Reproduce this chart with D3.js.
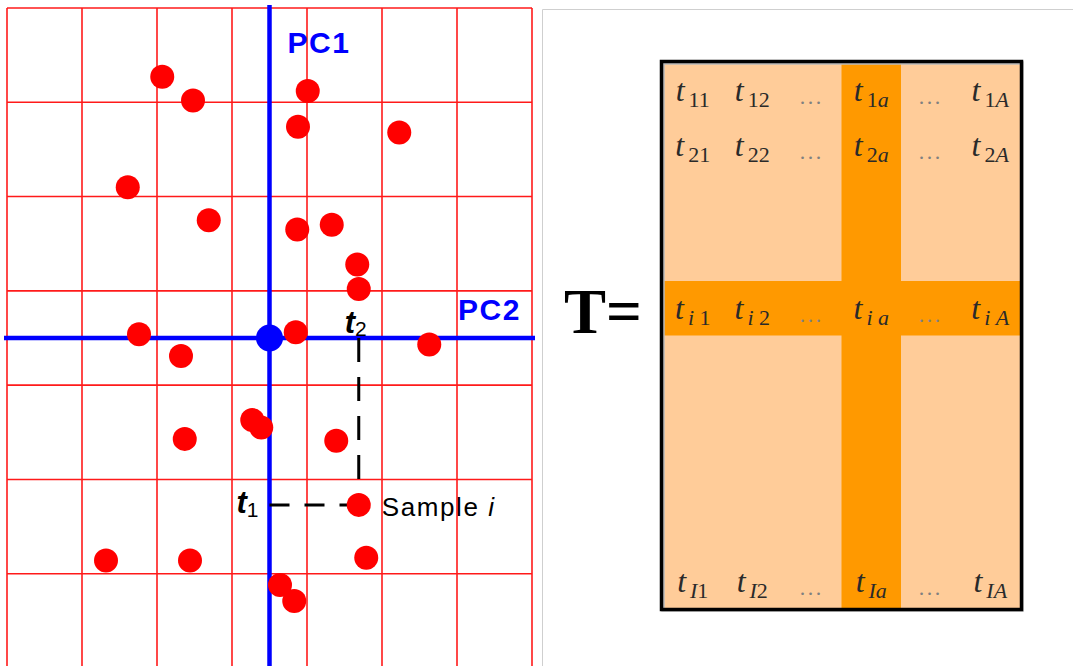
<!DOCTYPE html>
<html>
<head>
<meta charset="utf-8">
<script src="https://cdn.jsdelivr.net/npm/d3@7"></script>
<style>
  body { margin: 0; background: #fff; }
</style>
</head>
<body>
<script>
// score plot data: PC2 (horizontal) and PC1 (vertical) scores
const pc2 = [-1.43, -1.02, 0.51, 0.38, 1.73, -1.89, -0.81, 0.37, 0.83, 1.17, 1.19, -1.74, 0.35,
  2.13, -1.18, -0.23, -0.11, -1.13, 0.89, 1.19, -2.18, -1.06, 1.29, 0.14, 0.33];
const pc1 = [2.77, 2.52, 2.62, 2.24, 2.18, 1.60, 1.25, 1.15, 1.20, 0.78, 0.52, 0.04, 0.06,
  -0.07, -0.19, -0.87, -0.95, -1.07, -1.09, -1.77, -2.36, -2.36, -2.33, -2.62, -2.79];
const sampleIndex = 19;
const gridTicks = [-3.5, -2.5, -1.5, -0.5, 0.5, 1.5, 2.5, 3.5];

// score matrix T
const rowLabels = ["1", "2", "", "", "i", "", "", "", "", "I"];
const colLabels = ["1", "2", "...", "a", "...", "A"];
const highlightRow = "i";
const highlightCol = "a";

const width = 1073, height = 666;

const svg = d3.select("body")
    .append("svg")
    .attr("width", width)
    .attr("height", height);

// ---------- left panel: score plot ----------
const xScale = d3.scaleLinear().domain([-3.5, 3.5]).range([7, 532]);
const yScale = d3.scaleLinear().domain([-3.5, 3.5]).range([668, 8]);

const plot = svg.append("g");

//grid
plot.selectAll(".vgrid")
    .data(gridTicks)
    .enter()
    .append("line")
    .attr("x1", d => xScale(d))
    .attr("x2", d => xScale(d))
    .attr("y1", yScale(3.5))
    .attr("y2", height)
    .attr("stroke", "#ff1a1a")
    .attr("stroke-width", 1.6);

plot.selectAll(".hgrid")
    .data(gridTicks)
    .enter()
    .append("line")
    .attr("x1", xScale(-3.5))
    .attr("x2", xScale(3.5))
    .attr("y1", d => yScale(d))
    .attr("y2", d => yScale(d))
    .attr("stroke", "#ff1a1a")
    .attr("stroke-width", 1.6);

//axes
plot.append("line")
    .attr("x1", 4).attr("x2", 535)
    .attr("y1", yScale(0)).attr("y2", yScale(0))
    .attr("stroke", "#0000ff")
    .attr("stroke-width", 4.5);

plot.append("line")
    .attr("x1", xScale(0)).attr("x2", xScale(0))
    .attr("y1", 5).attr("y2", height)
    .attr("stroke", "#0000ff")
    .attr("stroke-width", 4.5);

//projection lines for sample i
const sx = xScale(pc2[sampleIndex]), sy = yScale(pc1[sampleIndex]);
plot.append("line")
    .attr("x1", sx).attr("x2", sx)
    .attr("y1", yScale(0)).attr("y2", sy)
    .attr("stroke", "#000")
    .attr("stroke-width", 3)
    .attr("stroke-dasharray", "24,15");

plot.append("line")
    .attr("x1", xScale(0)).attr("x2", sx)
    .attr("y1", sy).attr("y2", sy)
    .attr("stroke", "#000")
    .attr("stroke-width", 3)
    .attr("stroke-dasharray", "20,15");

//dots
plot.selectAll(".dot")
    .data(pc2)
    .enter()
    .append("circle")
    .attr("cx", d => xScale(d))
    .attr("cy", (d, i) => yScale(pc1[i]))
    .attr("r", 12)
    .attr("fill", "#ff0000");

plot.append("circle")
    .attr("cx", xScale(0))
    .attr("cy", yScale(0))
    .attr("r", 13.5)
    .attr("fill", "#0000ff");

//labels
plot.append("text")
    .attr("x", xScale(0) + 18)
    .attr("y", 53)
    .attr("font-family", "Liberation Sans, Arial, sans-serif")
    .attr("font-weight", "bold")
    .attr("font-size", "30px")
    .attr("letter-spacing", "1.5px")
    .attr("fill", "#0000ff")
    .text("PC1");

plot.append("text")
    .attr("x", 458)
    .attr("y", 320)
    .attr("font-family", "Liberation Sans, Arial, sans-serif")
    .attr("font-weight", "bold")
    .attr("font-size", "30px")
    .attr("letter-spacing", "1.5px")
    .attr("fill", "#0000ff")
    .text("PC2");

const t2 = plot.append("text")
    .attr("x", sx - 14)
    .attr("y", yScale(0) - 5)
    .attr("font-family", "Liberation Sans, Arial, sans-serif")
    .attr("fill", "#000");
t2.append("tspan").attr("font-size", "31px").attr("font-weight", "bold").attr("font-style", "italic").text("t");
t2.append("tspan").attr("font-size", "21px").attr("dy", 3).text("2");

const t1 = plot.append("text")
    .attr("x", xScale(0) - 33)
    .attr("y", sy + 8)
    .attr("font-family", "Liberation Sans, Arial, sans-serif")
    .attr("fill", "#000");
t1.append("tspan").attr("font-size", "31px").attr("font-weight", "bold").attr("font-style", "italic").text("t");
t1.append("tspan").attr("font-size", "21px").attr("dy", 4).text("1");

const sampleLabel = plot.append("text")
    .attr("x", sx + 23)
    .attr("y", sy + 11)
    .attr("font-family", "Liberation Sans, Arial, sans-serif")
    .attr("font-size", "26px")
    .attr("letter-spacing", "1.6px")
    .attr("fill", "#000");
sampleLabel.append("tspan").text("Sample ");
sampleLabel.append("tspan").attr("font-style", "italic").text("i");

// ---------- right panel: matrix T ----------
const panel = svg.append("g");

panel.append("path")
    .attr("d", `M542.5,${height} V9.5 H${width}`)
    .attr("fill", "none")
    .attr("stroke", "#cfcfcf")
    .attr("stroke-width", 1);

const colScale = d3.scaleBand().domain(d3.range(colLabels.length)).range([663, 1020]);
const rowScale = d3.scaleBand().domain(d3.range(rowLabels.length)).range([63, 608]);

panel.append("rect")
    .attr("x", 663).attr("y", 63)
    .attr("width", 357).attr("height", 545)
    .attr("fill", "#ffcc99");

panel.append("rect")
    .attr("x", colScale(colLabels.indexOf(highlightCol)))
    .attr("y", 63)
    .attr("width", colScale.bandwidth())
    .attr("height", 545)
    .attr("fill", "#ff9900");

panel.append("rect")
    .attr("x", 663)
    .attr("y", rowScale(rowLabels.indexOf(highlightRow)))
    .attr("width", 357)
    .attr("height", rowScale.bandwidth())
    .attr("fill", "#ff9900");

//shadow + frame
panel.append("rect")
    .attr("x", 663).attr("y", 63)
    .attr("width", 359).attr("height", 547)
    .attr("fill", "none")
    .attr("stroke", "#bbb")
    .attr("stroke-width", 3.5);

panel.append("rect")
    .attr("x", 661.5).attr("y", 61.5)
    .attr("width", 360).attr("height", 548)
    .attr("fill", "none")
    .attr("stroke", "#000")
    .attr("stroke-width", 3.5);

//cells
const cells = [];
rowLabels.forEach((r, ri) => {
    if (r === "") return;
    colLabels.forEach((c, ci) => cells.push({r, c, ri, ci}));
});

const cellText = panel.selectAll(".cell")
    .data(cells)
    .enter()
    .append("text")
    .attr("x", d => colScale(d.ci) + colScale.bandwidth() / 2)
    .attr("y", d => rowScale(d.ri) + rowScale.bandwidth() / 2 + 11)
    .attr("text-anchor", "middle")
    .attr("font-family", "Liberation Serif, Times New Roman, serif")
    .attr("fill", "#2a2a2a");

cellText.filter(d => d.c === "...")
    .append("tspan")
    .attr("font-size", "22px")
    .attr("letter-spacing", "2.5px")
    .attr("fill", "#808080")
    .attr("dy", 3)
    .text("...");

cellText.filter(d => d.c !== "...")
    .each(function (d) {
        const t = d3.select(this);
        t.append("tspan").attr("font-size", "32px").attr("font-style", "italic").text("t");
        const sub = d.r === "i" ? ["i", " ", d.c] : [d.r, d.c];
        sub.forEach((s, k) => {
            const ts = t.append("tspan")
                .attr("font-size", "22px")
                .attr("font-style", /[0-9 ]/.test(s) ? "normal" : "italic")
                .text(s);
            if (k === 0) ts.attr("dx", 4).attr("dy", 6);
        });
    });

panel.append("text")
    .attr("x", 564)
    .attr("y", 333)
    .attr("font-family", "Liberation Serif, Times New Roman, serif")
    .attr("font-weight", "bold")
    .attr("font-size", "63px")
    .attr("fill", "#000")
    .text("T=");
</script>
</body>
</html>
